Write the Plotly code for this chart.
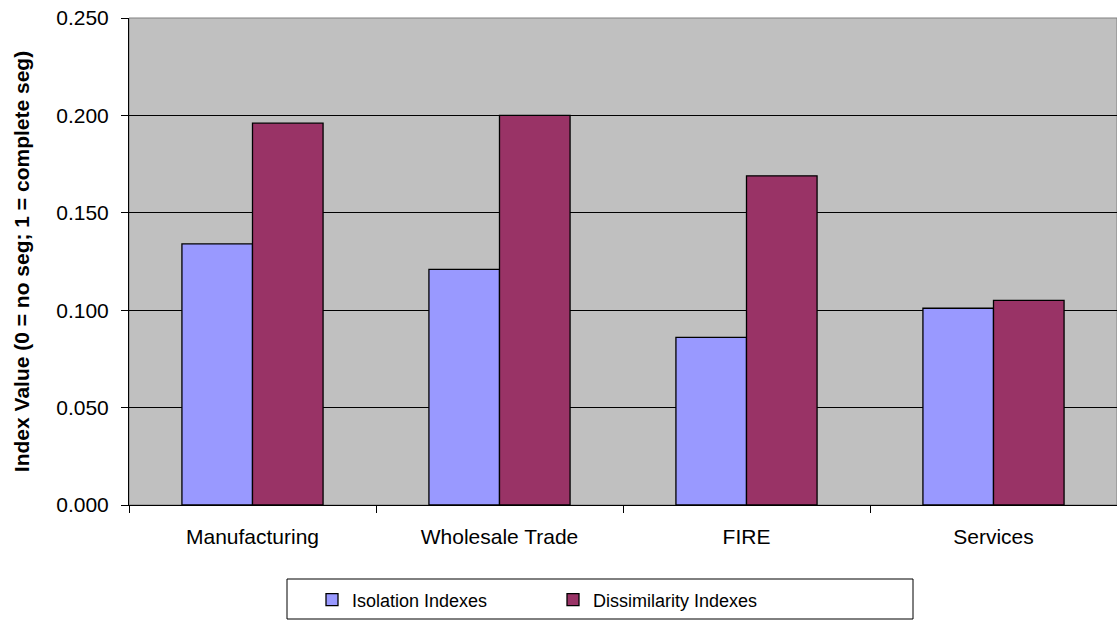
import plotly.graph_objects as go

categories = ["Manufacturing", "Wholesale Trade", "FIRE", "Services"]
isolation = [0.134, 0.121, 0.086, 0.101]
dissimilarity = [0.196, 0.200, 0.169, 0.105]
series_names = ["Isolation Indexes", "Dissimilarity Indexes"]
y_ticks = [0.0, 0.05, 0.10, 0.15, 0.20, 0.25]
y_tick_labels = ["0.000", "0.050", "0.100", "0.150", "0.200", "0.250"]

FONT = "Liberation Sans, Arial, sans-serif"

fig = go.Figure()
fig.add_trace(go.Bar(x=categories, y=isolation, name=series_names[0],
                     marker=dict(color="#9999FF", line=dict(color="black", width=1.3))))
fig.add_trace(go.Bar(x=categories, y=dissimilarity, name=series_names[1],
                     marker=dict(color="#993366", line=dict(color="black", width=1.3))))

# legend frame
fig.add_shape(type="rect", xref="paper", yref="paper",
              x0=(287 - 129) / 988, x1=(913 - 129) / 988,
              y0=(505 - 579) / 487, y1=(505 - 619) / 487,
              line=dict(color="black", width=1), fillcolor="white", layer="below")
# plot area border (grey)
fig.add_shape(type="rect", xref="paper", yref="paper", x0=0, x1=1, y0=0, y1=1,
              line=dict(color="#808080", width=1), layer="below")

fig.update_layout(
    width=1117, height=621,
    margin=dict(l=129, r=0, t=18, b=116),
    paper_bgcolor="white", plot_bgcolor="#C0C0C0",
    barmode="group", bargap=1.5 / 3.5, bargroupgap=0,
    font=dict(family=FONT, color="black"),
    showlegend=True,
    legend=dict(orientation="h", x=(312 - 129) / 988, xanchor="left",
                y=(505 - 600) / 487, yanchor="middle",
                font=dict(size=18, family=FONT), bgcolor="rgba(0,0,0,0)",
                entrywidth=196, entrywidthmode="pixels", traceorder="normal"),
    xaxis=dict(type="category", tickson="boundaries", ticks="outside", ticklen=7,
               tickcolor="black", showline=True, linecolor="black", linewidth=1,
               tickfont=dict(size=21, family=FONT), ticklabelstandoff=13,
               showgrid=False),
    yaxis=dict(range=[0, 0.25], tickvals=y_ticks, ticktext=y_tick_labels,
               ticks="outside", ticklen=7, tickcolor="black",
               showline=True, linecolor="black", linewidth=1,
               showgrid=True, gridcolor="black", gridwidth=1,
               zeroline=False, tickfont=dict(size=21, family=FONT),
               ticklabelstandoff=8,
               title=dict(text="<b>Index Value (0 = no seg; 1 = complete seg)</b>",
                          font=dict(size=21, family=FONT), standoff=20)),
)

fig.write_html("out.html")
